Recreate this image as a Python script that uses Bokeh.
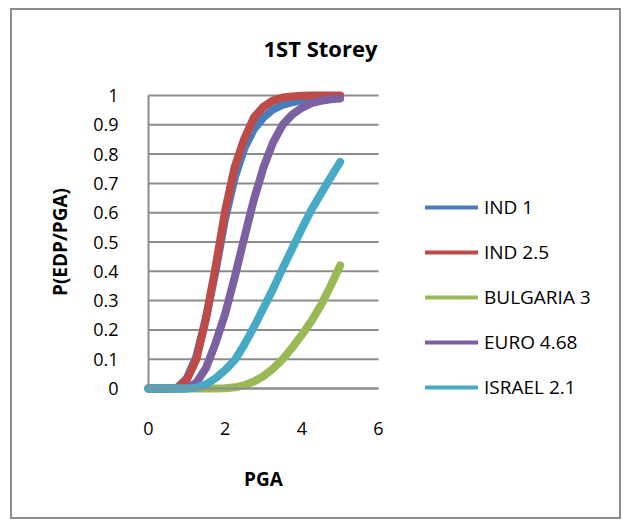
import math
from bokeh.plotting import figure
from bokeh.models import Range1d, FixedTicker, Legend, LegendItem, Label
from bokeh.embed import file_html
from bokeh.resources import INLINE

# ---- data ----
pga = [0, 0.25, 0.5, 0.75, 1.0, 1.25, 1.5, 1.75, 2.0, 2.25, 2.5,
       2.75, 3.0, 3.25, 3.5, 3.75, 4.0, 4.25, 4.5, 4.75, 5.0]
ind_1 = [0, 0, 0, 0.003, 0.035, 0.11, 0.24, 0.40, 0.58, 0.72, 0.82,
         0.885, 0.925, 0.953, 0.968, 0.977, 0.984, 0.989, 0.993, 0.996, 0.998]
ind_2_5 = [0, 0, 0, 0.001, 0.03, 0.10, 0.24, 0.415, 0.607, 0.757, 0.853,
           0.925, 0.962, 0.983, 0.993, 0.997, 0.999, 1.0, 1.0, 1.0, 1.0]
bulgaria_3 = [0, 0, 0, 0, 0, 0, 0, 0, 0.001, 0.004, 0.011,
              0.024, 0.042, 0.068, 0.10, 0.14, 0.183, 0.23, 0.285, 0.35, 0.42]
euro_4_68 = [0, 0, 0, 0, 0.001, 0.02, 0.07, 0.155, 0.255, 0.38, 0.515,
             0.645, 0.755, 0.84, 0.90, 0.935, 0.958, 0.974, 0.982, 0.987, 0.99]
israel_2_1 = [0, 0, 0, 0, 0, 0.003, 0.014, 0.035, 0.063, 0.097, 0.15,
              0.21, 0.275, 0.34, 0.41, 0.478, 0.545, 0.61, 0.665, 0.72, 0.773]

series_names = ["IND 1", "IND 2.5", "BULGARIA 3", "EURO 4.68", "ISRAEL 2.1"]
series_values = [ind_1, ind_2_5, bulgaria_3, euro_4_68, israel_2_1]
series_colors = ["#4a7ebb", "#be4b48", "#98b954", "#7d60a0", "#46aac5"]

x_ticks = [0, 2, 4, 6]
x_tick_labels = ["0", "2", "4", "6"]
y_ticks = [0, 0.1, 0.2, 0.3, 0.4, 0.5, 0.6, 0.7, 0.8, 0.9, 1]
y_tick_labels = ["0", "0.1", "0.2", "0.3", "0.4", "0.5", "0.6", "0.7", "0.8", "0.9", "1"]

title_text = "1ST Storey"
x_title = "PGA"
y_title = "P(EDP/PGA)"

FONT = "Open Sans"
GRID = "#8c8c8c"

# x 0..6 spans 230 px, y 0..1 spans 293 px; the frame covers nearly the whole
# canvas so the legend, titles and axis texts (inside the frame) are not clipped
PX_X = 230 / 6.0
PX_Y = 293.0
FR_LEFT, FR_RIGHT, FR_TOP, FR_BOTTOM = 5, 606, 5, 506   # canvas px
ZERO_X, ZERO_Y = 136, 378                              # canvas px of (0, 0)
x_start = -(ZERO_X - FR_LEFT) / PX_X
x_end = (FR_RIGHT - ZERO_X) / PX_X
y_start = -(FR_BOTTOM - ZERO_Y) / PX_Y
y_end = (ZERO_Y - FR_TOP) / PX_Y

p = figure(width=611, height=511, title=None,
           x_range=Range1d(x_start, x_end), y_range=Range1d(y_start, y_end),
           output_backend="svg", toolbar_location=None,
           min_border_left=FR_LEFT, min_border_right=611 - FR_RIGHT,
           min_border_top=FR_TOP, min_border_bottom=511 - FR_BOTTOM)
p.margin = (8, 0, 0, 10)
p.styles = {"border": "2px solid #8c8c8c"}
p.outline_line_color = None
p.background_fill_color = "white"
p.border_fill_color = "white"

# axes
for ax, ticks, labels in ((p.xaxis[0], x_ticks, x_tick_labels),
                          (p.yaxis[0], y_ticks, y_tick_labels)):
    ax.ticker = FixedTicker(ticks=ticks)
    ax.major_label_overrides = {t: l for t, l in zip(ticks, labels)}
    ax.axis_line_color = GRID
    ax.axis_line_width = 2
    ax.major_tick_line_color = None
    ax.minor_tick_line_color = None
    ax.major_label_text_font = FONT
    ax.major_label_text_font_size = "18px"
    ax.major_label_text_color = "black"

p.xaxis.bounds = (x_ticks[0], x_ticks[-1])
p.yaxis.bounds = (y_ticks[0], y_ticks[-1])
p.xaxis.fixed_location = 0
p.yaxis.fixed_location = 0
p.xaxis.major_label_standoff = 27
p.yaxis.major_label_standoff = 24

# horizontal gridlines only across the x-axis extent (0..6)
p.xgrid.visible = False
p.ygrid.visible = False
n = len(y_ticks)
p.segment(x0=[x_ticks[0]] * n, y0=y_ticks, x1=[x_ticks[-1]] * n, y1=y_ticks,
          line_color=GRID, line_width=2)

# series: a thin copy (used for the legend sample) under the thick line
items = []
for name, vals, col in zip(series_names, series_values, series_colors):
    thin = p.line(pga, vals, line_color=col, line_width=4, line_cap="round")
    p.line(pga, vals, line_color=col, line_width=8,
           line_join="round", line_cap="round")
    items.append(LegendItem(label=name, renderers=[thin]))

legend = Legend(items=items, location=(425 - 12 - FR_LEFT, 116),
                glyph_width=53, glyph_height=24, label_height=24,
                spacing=19, label_standoff=6, padding=0, margin=0,
                border_line_color=None, background_fill_alpha=0,
                label_text_font=FONT, label_text_font_size="19px",
                label_text_color="black")
p.add_layout(legend)

# chart title
p.add_layout(Label(x=(320 - 148) / PX_X, y=(388 - 47) / PX_Y, text=title_text,
                   text_align="center", text_baseline="middle",
                   text_font=FONT, text_font_style="bold",
                   text_font_size="22px", text_color="black"))

# x-axis title, centred under the 0..6 axis
p.add_layout(Label(x=(x_ticks[0] + x_ticks[-1]) / 2, y=(388 - 478) / PX_Y,
                   text=x_title, text_align="center", text_baseline="middle",
                   text_font=FONT, text_font_style="bold",
                   text_font_size="19px", text_color="black"))

# y-axis title, rotated, centred beside the 0..1 axis
p.add_layout(Label(x=(59 - 148) / PX_X, y=(y_ticks[0] + y_ticks[-1]) / 2,
                   text=y_title, angle=math.pi / 2,
                   text_align="center", text_baseline="middle",
                   text_font=FONT, text_font_style="bold",
                   text_font_size="19px", text_color="black"))

open("out.html", "w").write(file_html(p, INLINE))
